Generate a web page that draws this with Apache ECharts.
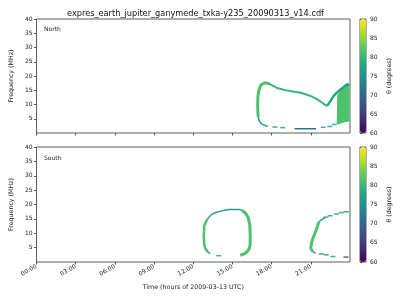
<!DOCTYPE html>
<html><head><meta charset="utf-8">
<script src="https://cdn.jsdelivr.net/npm/echarts@6/dist/echarts.min.js"></script>
<style>html,body{margin:0;padding:0;background:#fff}#c{width:400px;height:300px}</style>
</head><body><div id="c"></div>
<script>
// ---- tick labels ----
const hourTicks = [0, 3, 6, 9, 12, 15, 18, 21];
const hourLabels = ['00:00','03:00','06:00','09:00','12:00','15:00','18:00','21:00'];
const freqTicks = [5, 10, 15, 20, 25, 30, 35, 40];
const thetaTicks = [60, 65, 70, 75, 80, 85, 90];
const titleText = 'expres_earth_jupiter_ganymede_txka-y235_20090313_v14.cdf';

// ---- North hemisphere emission (hours, MHz) ----
const northLoopLeft = [[16.97,5.6],[16.93,9],[16.95,13],[17.05,15.5],[17.2,17.0],[17.5,17.6],[17.8,17.3]];
const northLoopLeftTheta = 81.5;
const northLoopTop = [[17.8,17.3],[18.36,15.9],[18.98,15.1],[19.74,14.5],[20.24,14.1],[20.99,13.0],[21.5,11.8],[21.87,10.6],[22.12,9.8],[22.25,9.5]];
const northLoopTopTheta = 80;
const northRise = [[22.25,9.5],[22.5,11.2],[22.75,13.0],[23.12,14.7],[23.5,16.1],[23.75,17.0],[23.96,16.9]];
const northRiseTheta = 77.5;
const northBlock = [[23.02,13.0],[23.3,15.3],[23.6,16.6],[23.96,16.6],[23.96,4.1],[23.5,3.7],[23.1,3.0],[22.98,3.3],[23.0,8]];
const northBlockTheta = 81.5;
const northLowArc = [[16.97,5.6],[17.05,4.3],[17.2,3.3],[17.45,2.7],[17.7,2.3]];
const northLowArcTheta = 77;
const northDark = [[19.75,1.45],[21.4,1.45]];
const northDarkTheta = 72;
const northDashes = [[18.25,2.1,76],[18.85,1.9,76],[21.95,2.0,76],[22.45,2.3,76],[22.8,3.0,77]];

// ---- South hemisphere emission (hours, MHz) ----
const southLeftSide = [[13.1,3.7],[12.93,4.6],[12.84,6.0],[12.8,9],[12.84,12.5],[12.95,13.8],[13.1,15.0]];
const southLeftSideTheta = 81.5;
const southTop = [[13.1,15.0],[13.35,16.4],[13.72,17.2],[14.09,17.7],[14.47,18.1],[14.75,18.3],[15.5,18.3],[15.75,17.9]];
const southTopTheta = 77;
const southRightSide = [[15.75,17.9],[16.0,17.0],[16.2,15.5],[16.33,13],[16.36,9],[16.35,6],[16.3,4.8],[16.15,3.7],[15.9,2.8],[15.6,2.3]];
const southRightSideTheta = 81.5;
const southLeftLow = [[12.86,5.5],[12.93,4.5],[13.1,3.5],[13.3,2.9]];
const southLeftLowTheta = 77;
const southArc2Upper = [[22.1,15.4],[21.85,14.8],[21.62,14.0]];
const southArc2UpperTheta = 77;
const southArc2Green = [[21.62,14.0],[21.5,12.3],[21.32,10.0],[21.17,8.3],[21.05,6.6],[21.0,4.8],[21.12,3.7]];
const southArc2GreenTheta = 81.5;
const southArc2Low = [[21.12,3.7],[21.37,3.1]];
const southArc2LowTheta = 77;
const southDashes = [[13.95,2.2,76],[23.72,17.5,75],[23.34,17.2,75],[22.95,16.7,76],[22.48,16.1,76],[22.16,15.6,76],
                     [21.81,2.8,76],[22.18,2.5,76],[22.69,1.9,75],[23.69,1.7,67]];

// ---- colormap ----
const viridisStops = ['#440154','#482475','#414487','#355f8d','#2a788e','#21918c','#22a884','#44bf70','#7ad151','#bddf26','#fde725'];
function hex2rgb(h){return [1,3,5].map(i=>parseInt(h.substr(i,2),16));}
function viridis(theta){
  let t = Math.max(0, Math.min(1, (theta-60)/30)) * 10;
  const i = Math.min(9, Math.floor(t)), f = t - i;
  const a = hex2rgb(viridisStops[i]), b = hex2rgb(viridisStops[i+1]);
  const c = a.map((v,k)=>Math.round(v+(b[k]-v)*f));
  return 'rgb(' + c.join(',') + ')';
}

const FONT = 'DejaVu Sans';
const AX = '#333';
const series = [];
function lineS(pts, theta, width, g){
  series.push({type:'line', xAxisIndex:g, yAxisIndex:g, data:pts, showSymbol:false, symbol:'none',
    silent:true, animation:false, lineStyle:{width:width, color:viridis(theta), cap:'butt', join:'round'}});
}
function polyS(pts, theta, g){
  series.push({type:'custom', xAxisIndex:g, yAxisIndex:g, data:[pts[0]], silent:true, animation:false,
    renderItem:(p, api)=>({type:'polygon', shape:{points: pts.map(q=>api.coord(q))}, style:{fill: viridis(theta)}})});
}
function dashS(pts, g){
  series.push({type:'scatter', xAxisIndex:g, yAxisIndex:g, data:pts, symbol:'rect', symbolSize:[5,1.6],
    silent:true, animation:false});
  return series.length - 1;
}

const nDashIdx = dashS(northDashes, 0);
polyS(northBlock, northBlockTheta, 0);
lineS(northLowArc, northLowArcTheta, 1.5, 0);
lineS(northDark, northDarkTheta, 1.5, 0);
lineS(northLoopTop, northLoopTopTheta, 2, 0);
lineS(northLoopLeft, northLoopLeftTheta, 3, 0);
lineS(northRise, northRiseTheta, 2.5, 0);

const sDashIdx = dashS(southDashes, 1);
lineS(southLeftLow, southLeftLowTheta, 1.5, 1);
lineS(southTop, southTopTheta, 1.5, 1);
lineS(southLeftSide, southLeftSideTheta, 2.5, 1);
lineS(southRightSide, southRightSideTheta, 3, 1);
lineS(southArc2Upper, southArc2UpperTheta, 1.5, 1);
lineS(southArc2Green, southArc2GreenTheta, 3, 1);
lineS(southArc2Low, southArc2LowTheta, 1.5, 1);

const panels = [{top:19, height:114}, {top:147, height:115}];
const grids = panels.map(p=>({left:31, width:319, top:p.top, height:p.height, show:true, borderColor:AX, borderWidth:0.8, containLabel:false}));
panels.forEach(p=>grids.push({left:360, width:6, top:p.top, height:p.height, show:true, borderColor:AX, borderWidth:0.8}));

const tickLabel = {fontFamily:FONT, fontSize:6, color:'#222'};
const xAxes = [0,1].map(g=>({
  type:'value', gridIndex:g, min:0, max:24, axisLine:{show:false}, splitLine:{show:false},
  axisTick:{show:true, customValues:hourTicks, length:2.5, lineStyle:{color:AX, width:0.8}},
  axisLabel: g===1 ? Object.assign({show:true, customValues:hourTicks, rotate:30, margin:4, formatter:v=>hourLabels[hourTicks.indexOf(v)]}, tickLabel) : {show:false},
  name: g===1 ? 'Time (hours of 2009-03-13 UTC)' : '', nameLocation:'middle', nameGap:22,
  nameTextStyle:{fontFamily:FONT, fontSize:6.3, color:'#222'}
}));
[2,3].forEach(g=>xAxes.push({type:'value', gridIndex:g, min:0, max:1, show:false}));
const yAxes = [0,1].map(g=>({
  type:'value', gridIndex:g, min:0, max:40, axisLine:{show:false}, splitLine:{show:false},
  axisTick:{show:true, customValues:freqTicks, length:2.5, lineStyle:{color:AX, width:0.8}},
  axisLabel:Object.assign({customValues:freqTicks, margin:4}, tickLabel),
  name:'Frequency (MHz)', nameLocation:'middle', nameGap:19, nameRotate:90,
  nameTextStyle:{fontFamily:FONT, fontSize:6.3, color:'#222'}
}));
[2,3].forEach(g=>yAxes.push({
  type:'value', gridIndex:g, min:60, max:90, interval:5, position:'right', axisLine:{show:false}, splitLine:{show:false},
  axisTick:{show:true, customValues:thetaTicks, length:2, lineStyle:{color:AX, width:0.8}},
  axisLabel:Object.assign({customValues:thetaTicks, margin:4}, tickLabel),
  name:'θ (degrees)', nameLocation:'middle', nameGap:20, nameRotate:90,
  nameTextStyle:{fontFamily:FONT, fontSize:6.3, color:'#222'}
}));

const vm = (idx, top, h)=>({type:'continuous', min:60, max:90, seriesIndex:idx, dimension:2, calculable:false,
  orient:'vertical', left:360, top:top, itemWidth:6, itemHeight:h, padding:0, inRange:{color:viridisStops}, hoverLink:false});

const chart = echarts.init(document.getElementById('c'), null, {renderer:'canvas'});
chart.setOption({
  animation:false,
  backgroundColor:'#fff',
  title:{text:titleText, left:190.5, top:5, textAlign:'center', textStyle:{fontFamily:FONT, fontSize:8.2, fontWeight:'normal', color:'#111'}},
  grid:grids, xAxis:xAxes, yAxis:yAxes,
  visualMap:[vm(nDashIdx, 19, 114), vm(sDashIdx, 147, 115)],
  graphic:[
    {type:'text', left:44, top:26, style:{text:'North', font:'6px "DejaVu Sans"', fill:'#222'}},
    {type:'text', left:44, top:155, style:{text:'South', font:'6px "DejaVu Sans"', fill:'#222'}}
  ],
  series:series
});
</script></body></html>
